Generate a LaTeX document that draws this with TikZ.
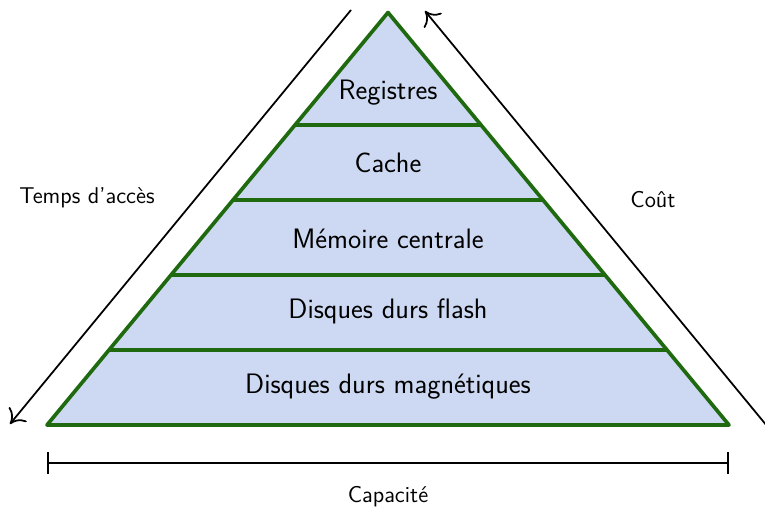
\documentclass[tikz,border=0pt]{standalone}
\usetikzlibrary{calc,arrows.meta}
\definecolor{layerfill}{HTML}{CDD9F2}
\definecolor{layerline}{HTML}{1F6A0F}
\tikzset{
  layerline/.style={draw=layerline,line width=2.1pt,line join=round},
  layerlabel/.style={font=\sffamily\fontsize{16}{19}\selectfont},
  sidelabel/.style={font=\sffamily\fontsize{13}{15}\selectfont},
  sidearrow/.style={line width=1pt,-{To[length=2.6mm,width=4.6mm]}},
}
\begin{document}
\begin{tikzpicture}
      \useasboundingbox (0,0) rectangle (15.3,10.22);
      \clip (0,0) rectangle (15.3,10.22);

      \coordinate (bl) at (0.94,1.72);
      \coordinate (br) at (14.58,1.72);
      \coordinate (top) at (7.76,9.97);

      \fill[layerfill] (bl) -- (top) -- (br) -- cycle;
      \foreach \h in {1,2,3,4}
        \draw[layerline] ($(bl)!\h*1.5/8.25!(top)$) -- ($(br)!\h*1.5/8.25!(top)$);
      \draw[layerline] (bl) -- (top) -- (br) -- cycle;

      \node[layerlabel] (magn) at (7.76,2.49) {Disques durs magnétiques};
      \node[layerlabel] (flash) at (7.76,3.99) {Disques durs flash};
      \node[layerlabel] (ram) at (7.76,5.45) {Mémoire centrale};
      \node[layerlabel] (cache) at (7.76,6.97) {Cache};
      \node[layerlabel] (reg) at (7.76,8.36) {Registres};

      \coordinate (tl) at (7.02,10.02);
      \coordinate (tl') at (0.20,1.74);
      \coordinate (tr) at (15.34,1.70);
      \coordinate (tr') at (8.50,10.00);
      \draw[sidearrow] (tl) -- (tl');
      \draw[sidearrow] (tr) -- (tr');
      \draw[line width=1.2pt,{Bar[width=12pt]}-{Bar[width=12pt]}] (0.94,0.96) -- (14.58,0.96);

      \node[sidelabel] (acces) at (1.74,6.26) {Temps d'accès};
      \node[sidelabel] (cout) at (13.06,6.22) {Coût};
      \node[sidelabel] (capa) at (7.76,0.28) {Capacité};
    \end{tikzpicture}
\end{document}
